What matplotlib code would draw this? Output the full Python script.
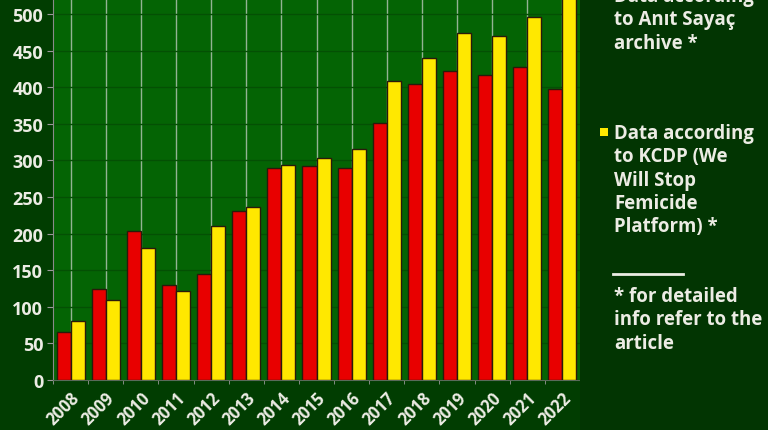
import numpy as np
import matplotlib
matplotlib.use("Agg")
import matplotlib.pyplot as plt
from matplotlib.patches import Rectangle
from matplotlib.transforms import ScaledTranslation

years = ["2008", "2009", "2010", "2011", "2012", "2013", "2014", "2015",
         "2016", "2017", "2018", "2019", "2020", "2021", "2022"]
anit_sayac = [66, 125, 203, 130, 145, 231, 290, 293, 289, 351, 404, 422, 417, 427, 397]
kcdp = [80, 109, 180, 121, 210, 237, 294, 303, 316, 409, 440, 474, 470, 496, 540]
y_ticks = [0, 50, 100, 150, 200, 250, 300, 350, 400, 450, 500]

label_anit = "Data according\nto Anıt Sayaç\narchive *"
label_kcdp = "Data according\nto KCDP (We\nWill Stop\nFemicide\nPlatform) *"
note = "* for detailed\ninfo refer to the\narticle"

BG_OUT = "#013d01"
BG_PLOT = "#046404"
RED = "#e80000"
YELLOW = "#ffe800"
TXT = "#ecece4"

plt.rcParams["font.family"] = ["Open Sans", "DejaVu Sans"]
plt.rcParams["font.weight"] = "bold"

W, H = 768, 431
fig = plt.figure(figsize=(W / 100, H / 100), dpi=100, facecolor=BG_OUT)
# darker band on the right where the legend sits
fig.patches.append(Rectangle((580 / W, 0), 1 - 580 / W, 1, transform=fig.transFigure,
                             facecolor="#023502", edgecolor="none", zorder=0))

ax = fig.add_axes([53 / W, 50 / H, (580 - 53) / W, 381 / H])
ax.set_facecolor(BG_PLOT)

x = np.arange(len(years))
w = 0.4
ax.bar(x - w / 2, anit_sayac, w, color=RED, edgecolor="#2a1a0a", linewidth=1, zorder=3)
ax.bar(x + w / 2, kcdp, w, color=YELLOW, edgecolor="#2a1a0a", linewidth=1, zorder=3)

ax.set_xlim(-0.5, len(years) - 0.5)
ax.set_ylim(0, 520.5)
ax.set_yticks(y_ticks)
ax.set_xticks(x)
ax.set_xticklabels(years, rotation=45, ha="right", rotation_mode="anchor")
ax.set_xticks(np.arange(len(years) + 1) - 0.5, minor=True)
shift = ScaledTranslation(-6 / 100, 0, fig.dpi_scale_trans)
for lbl in ax.get_xticklabels():
    lbl.set_transform(lbl.get_transform() + shift)

ax.tick_params(axis="y", colors="#9a9a9a", labelcolor=TXT, labelsize=13, length=4, pad=3)
ax.tick_params(axis="x", which="major", length=0, labelcolor=TXT, labelsize=12, pad=6)
ax.tick_params(axis="x", which="minor", length=3, color="#9a9a9a")

ax.grid(axis="x", color="#b8c8b8", linewidth=1, alpha=0.8, zorder=1)
ax.grid(axis="y", color="#045004", linewidth=1, zorder=1)
ax.set_axisbelow(True)

for s in ["top", "right"]:
    ax.spines[s].set_visible(False)
ax.spines["left"].set_color("#8a8a8a")
ax.spines["bottom"].set_color("#5a6a5a")

# legend block, placed by hand in pixel terms
def fy(py):
    return 1 - py / H

tx = 614 / W
fs = 13.4
ls = 1.22
fig.text(tx, fy(-13), label_anit, color=TXT, fontsize=fs, fontweight="bold",
         va="top", ha="left", linespacing=ls)
fig.patches.append(Rectangle((600 / W, fy(1)), 8 / W, 8 / H, transform=fig.transFigure,
                             facecolor=RED, edgecolor="none"))
fig.text(tx, fy(124), label_kcdp, color=TXT, fontsize=fs, fontweight="bold",
         va="top", ha="left", linespacing=ls)
fig.patches.append(Rectangle((600 / W, fy(137)), 8 / W, 8 / H, transform=fig.transFigure,
                             facecolor=YELLOW, edgecolor="none"))
fig.lines.append(plt.Line2D([613 / W, 683 / W], [fy(275), fy(275)], transform=fig.transFigure,
                            color=TXT, linewidth=2))
fig.text(tx, fy(287), note, color=TXT, fontsize=fs, fontweight="bold",
         va="top", ha="left", linespacing=ls)

fig.savefig("out.png", dpi=100, facecolor=fig.get_facecolor())
